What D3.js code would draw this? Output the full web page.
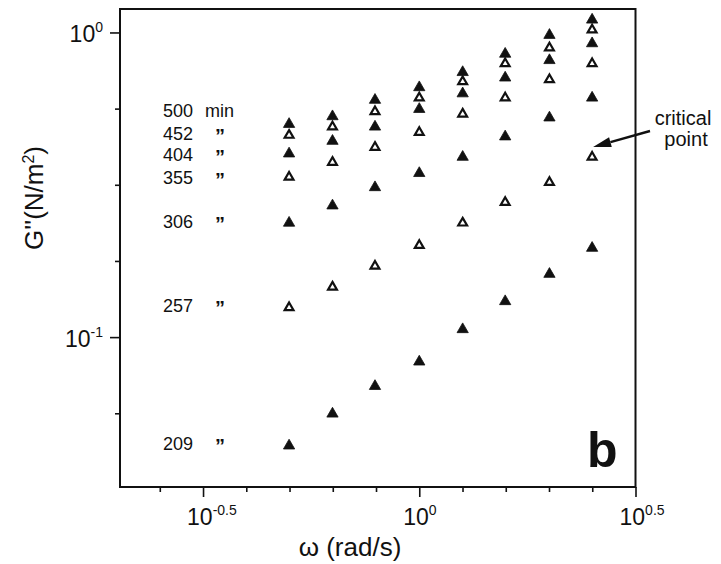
<!DOCTYPE html>
<html lang="en">
<head>
<meta charset="utf-8">
<script src="https://cdn.jsdelivr.net/npm/d3@7"></script>
<style>
  body { margin: 0; background: #fff; }
  svg text { font-family: "Liberation Sans", Arial, sans-serif; fill: #111; }
</style>
</head>
<body>
<svg id="chart" width="721" height="564"></svg>
<script>
// angular frequency (rad/s), one column per 0.1 decade
var omega = [0.5, 0.63, 0.79, 1.0, 1.26, 1.58, 2.0, 2.51];

// G'' (N/m2) for each curing time
var times = ["500", "452", "404", "355", "306", "257", "209"];
var filled = [true, false, true, false, true, false, true];
var g500 = [0.50, 0.53, 0.60, 0.66, 0.74, 0.85, 0.98, 1.10];
var g452 = [0.46, 0.49, 0.55, 0.61, 0.69, 0.79, 0.89, 1.02];
var g404 = [0.40, 0.44, 0.49, 0.56, 0.63, 0.71, 0.81, 0.92];
var g355 = [0.335, 0.375, 0.42, 0.47, 0.54, 0.61, 0.70, 0.79];
var g306 = [0.237, 0.27, 0.31, 0.345, 0.39, 0.455, 0.525, 0.61];
var g257 = [0.125, 0.146, 0.171, 0.20, 0.237, 0.277, 0.322, 0.39];
var g209 = [0.044, 0.056, 0.069, 0.083, 0.106, 0.131, 0.161, 0.196];
var seriesValues = [g500, g452, g404, g355, g306, g257, g209];

// where the time labels sit (G'' units)
var labelAt = [0.555, 0.466, 0.398, 0.335, 0.240, 0.127, 0.0449];

// tick exponents
var xTickExp = [-0.6, -0.5, -0.4, -0.3, -0.2, -0.1, 0, 0.1, 0.2, 0.3, 0.4, 0.5];
var xLabelExp = ["-0.5", "0", "0.5"];
var yTickExp = [0, -0.25, -0.5, -0.75, -1, -1.25];
var yLabelExp = ["0", "-1"];

var frameL = 120, frameR = 635.5, frameT = 9, frameB = 487;

var svg = d3.select("#chart");

var x = d3.scaleLog()
  .domain([Math.pow(10, -0.692), Math.pow(10, 0.5)])
  .range([frameL, frameR]);
var y = d3.scaleLog()
  .domain([Math.pow(10, -1.492), Math.pow(10, 0.077)])
  .range([frameB, frameT]);

function isMajor(e, list) {
  return list.some(function(s) { return Math.abs(+s - e) < 1e-6; });
}

/* axes */
var xg = svg.append("g")
  .attr("transform", "translate(0," + frameB + ")")
  .call(d3.axisBottom(x)
    .tickValues(xTickExp.map(function(e) { return Math.pow(10, e); }))
    .tickFormat(""));
xg.select(".domain").remove();
xg.selectAll(".tick line")
  .attr("stroke", "#111")
  .attr("stroke-width", 1.6)
  .attr("y2", function(d) { return isMajor(Math.log10(d), xLabelExp) ? 10 : 5; });

var yg = svg.append("g")
  .attr("transform", "translate(" + frameL + ",0)")
  .call(d3.axisLeft(y)
    .tickValues(yTickExp.map(function(e) { return Math.pow(10, e); }))
    .tickFormat(""));
yg.select(".domain").remove();
yg.selectAll(".tick line")
  .attr("stroke", "#111")
  .attr("stroke-width", 1.6)
  .attr("x2", function(d) { return isMajor(Math.log10(d), yLabelExp) ? -10 : -5; });

// tick labels as 10^e
xLabelExp.forEach(function(e) {
  var t = svg.append("text")
    .attr("x", x(Math.pow(10, +e)) - 16)
    .attr("y", frameB + 38)
    .style("font-size", "23px");
  t.append("tspan").text("10");
  t.append("tspan").attr("dy", -10).style("font-size", "14px").text(e);
});

yLabelExp.forEach(function(e) {
  var t = svg.append("text")
    .attr("x", frameL - 17)
    .attr("y", y(Math.pow(10, +e)) + 9.5)
    .attr("text-anchor", "end")
    .style("font-size", "23px");
  t.append("tspan").text("10");
  t.append("tspan").attr("dy", -10).style("font-size", "14px").text(e);
});

/* frame */
svg.append("rect")
  .attr("x", frameL)
  .attr("y", frameT)
  .attr("width", frameR - frameL)
  .attr("height", frameB - frameT)
  .attr("fill", "none")
  .attr("stroke", "#111")
  .attr("stroke-width", 2);

/* axis titles */
svg.append("text")
  .attr("x", 350)
  .attr("y", 556)
  .attr("text-anchor", "middle")
  .style("font-size", "26px")
  .text("\u03c9 (rad/s)");

var yt = svg.append("text")
  .attr("transform", "translate(43,198) rotate(-90)")
  .attr("text-anchor", "middle")
  .style("font-size", "26px");
yt.append("tspan").text("G''(N/m");
yt.append("tspan").attr("dy", -9).style("font-size", "16px").text("2");
yt.append("tspan").attr("dy", 9).text(")");

/* markers, lowest series first so the upper ones sit on top */
var order = d3.range(times.length).reverse();
order.forEach(function(i) {
  var full = filled[i];
  var sym = d3.symbol().type(d3.symbolTriangle).size(full ? 55 : 34);
  svg.append("g")
    .selectAll("path")
    .data(seriesValues[i])
    .enter()
    .append("path")
    .attr("d", sym)
    .attr("transform", function(d, j) {
      return "translate(" + x(omega[j]) + "," + y(d) + ")";
    })
    .attr("fill", full ? "#111" : "#fff")
    .attr("stroke", "#111")
    .attr("stroke-width", full ? 0.8 : 2.2);
});

/* time labels */
times.forEach(function(t, i) {
  var ly = y(labelAt[i]) + 6.5;
  svg.append("text")
    .attr("x", 163)
    .attr("y", ly)
    .style("font-size", "18px")
    .text(t);
  if (i === 0) {
    svg.append("text")
      .attr("x", 205)
      .attr("y", ly)
      .style("font-size", "18px")
      .text("min");
  } else {
    svg.append("text")
      .attr("x", 220)
      .attr("y", ly + 3)
      .attr("text-anchor", "middle")
      .style("font-size", "20px")
      .style("font-weight", "bold")
      .text("\u201d");
  }
});

/* critical point annotation */
var px = x(omega[7]), py = y(g257[7]);
var tip = [px + 1, py - 10], tail = [650, 131];
var dx = tip[0] - tail[0], dy = tip[1] - tail[1];
var len = Math.sqrt(dx * dx + dy * dy);
var ux = dx / len, uy = dy / len;
var bx = tip[0] - 18 * ux, by = tip[1] - 18 * uy;
svg.append("line")
  .attr("x1", tail[0]).attr("y1", tail[1])
  .attr("x2", bx).attr("y2", by)
  .attr("stroke", "#111")
  .attr("stroke-width", 2.4);
svg.append("path")
  .attr("d", "M" + tip[0] + "," + tip[1] +
    "L" + (bx - 5 * uy) + "," + (by + 5 * ux) +
    "L" + (bx + 5 * uy) + "," + (by - 5 * ux) + "Z")
  .attr("fill", "#111");

svg.append("text")
  .attr("x", 683).attr("y", 125)
  .attr("text-anchor", "middle")
  .style("font-size", "20px")
  .text("critical");
svg.append("text")
  .attr("x", 686).attr("y", 146)
  .attr("text-anchor", "middle")
  .style("font-size", "20px")
  .text("point");

/* panel letter */
svg.append("text")
  .attr("x", 587)
  .attr("y", 467)
  .style("font-size", "50px")
  .style("font-weight", "bold")
  .text("b");
</script>
</body>
</html>
